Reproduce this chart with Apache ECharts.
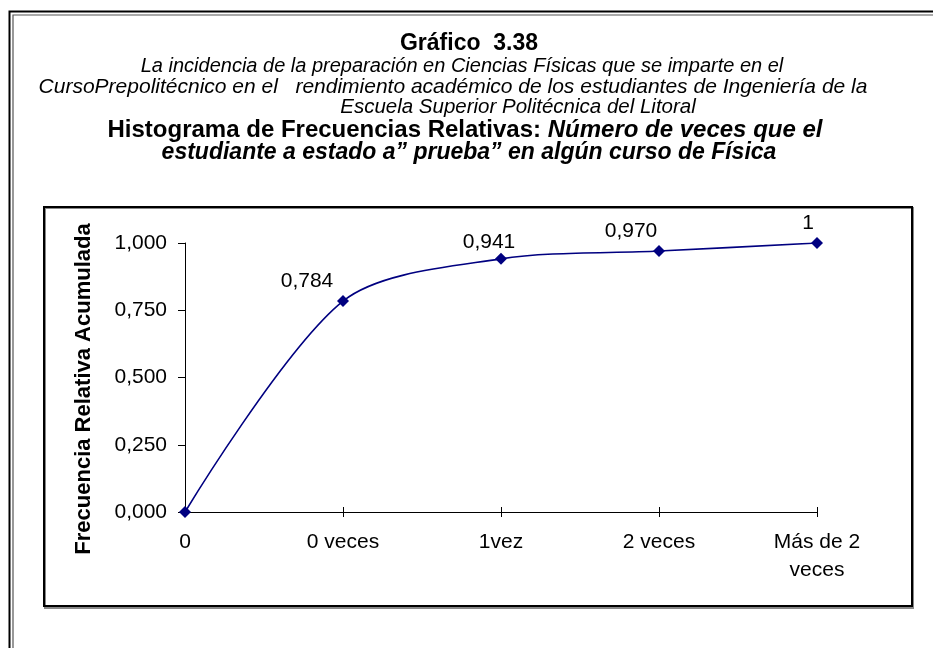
<!DOCTYPE html>
<html>
<head>
<meta charset="utf-8">
<script src="https://cdn.jsdelivr.net/npm/echarts@6/dist/echarts.min.js"></script>
<style>
  html, body { margin: 0; padding: 0; background: #ffffff; }
  #chart { width: 933px; height: 648px; }
</style>
</head>
<body>
<div id="chart"></div>
<script>
// Categories on the horizontal axis
const categories = ['0', '0 veces', '1vez', '2 veces', 'Más de 2\nveces'];
// Cumulative relative frequency per category
const cumulativeFreq = [0, 0.784, 0.941, 0.970, 1];
// Text printed above each point (the origin has none)
const valueLabels = ['', '0,784', '0,941', '0,970', '1'];
// Vertical axis tick labels
const yTickLabels = ['0,000', '0,250', '0,500', '0,750', '1,000'];

const FONT = '"Liberation Sans", Arial, sans-serif';
const NAVY = '#000080';

// Per-point nudges for the value labels
const labelNudge = [[0, 0], [-36, 2], [-12, 5], [-28, 2], [-9, 2]];

const chart = echarts.init(document.getElementById('chart'), null, { renderer: 'canvas' });

const seriesData = cumulativeFreq.map((v, i) => ({
  value: v,
  label: {
    show: valueLabels[i] !== '',
    formatter: valueLabels[i],
    offset: labelNudge[i]
  }
}));

const titleLines = [
  { text: 'Gráfico  3.38', x: 469, y: 44, font: 'bold 23px ' + FONT },
  { text: 'La incidencia de la preparación en Ciencias Físicas que se imparte en el', x: 462, y: 66, font: 'italic 20px ' + FONT },
  { text: 'CursoPrepolitécnico en el   rendimiento académico de los estudiantes de Ingeniería de la', x: 453, y: 87, font: 'italic 21px ' + FONT },
  { text: 'Escuela Superior Politécnica del Litoral', x: 518, y: 107, font: 'italic 20.5px ' + FONT }
];

const graphics = [];
// double frame around the page
graphics.push({ type: 'polyline', shape: { points: [[9.5, 648], [9.5, 11.5], [933, 11.5]] }, style: { stroke: '#000', lineWidth: 2, fill: null } });
graphics.push({ type: 'polyline', shape: { points: [[13, 648], [13, 15], [933, 15]] }, style: { stroke: '#555', lineWidth: 1.2, fill: null } });
// chart box with its shadow
graphics.push({ type: 'rect', shape: { x: 45, y: 208, width: 868, height: 400 }, style: { stroke: '#888', lineWidth: 2, fill: null } });
graphics.push({ type: 'rect', shape: { x: 44, y: 207, width: 868, height: 399 }, style: { stroke: '#000', lineWidth: 2, fill: null } });

titleLines.forEach((t) => {
  graphics.push({
    type: 'text', x: t.x, y: t.y,
    style: { text: t.text, font: t.font, fill: '#000', align: 'center', verticalAlign: 'middle' }
  });
});
graphics.push({
  type: 'text', x: 465, y: 130,
  style: {
    text: '{a|Histograma de Frecuencias Relativas: }{b|Número de veces que el}',
    align: 'center', verticalAlign: 'middle',
    rich: {
      a: { font: 'bold 24px ' + FONT, fill: '#000' },
      b: { font: 'italic bold 24px ' + FONT, fill: '#000' }
    }
  }
});
graphics.push({
  type: 'text', x: 469, y: 153,
  style: { text: 'estudiante a estado a” prueba” en algún curso de Física', font: 'italic bold 23px ' + FONT, fill: '#000', align: 'center', verticalAlign: 'middle' }
});
// vertical axis title
graphics.push({
  type: 'text', x: 84, y: 389, rotation: Math.PI / 2,
  style: { text: 'Frecuencia Relativa Acumulada', font: 'bold 22px ' + FONT, fill: '#000', align: 'center', verticalAlign: 'middle' }
});

chart.setOption({
  animation: false,
  backgroundColor: '#ffffff',
  grid: { left: 185, right: 116, top: 243, bottom: 136, containLabel: false },
  xAxis: [{
    type: 'category',
    data: categories,
    boundaryGap: false,
    axisLine: { lineStyle: { color: '#000', width: 1 } },
    axisTick: { show: true, alignWithLabel: true, length: 5, lineStyle: { color: '#000' } },
    axisLabel: { color: '#000', fontFamily: FONT, fontSize: 21, lineHeight: 28, margin: 16, interval: 0 },
    splitLine: { show: false }
  }, {
    type: 'category',
    data: categories,
    boundaryGap: false,
    position: 'bottom',
    axisLine: { show: false },
    axisTick: { show: true, inside: true, length: 5, lineStyle: { color: '#000' } },
    axisLabel: { show: false },
    splitLine: { show: false }
  }],
  yAxis: {
    type: 'value',
    min: 0,
    max: 1,
    interval: 0.25,
    axisLine: { show: true, lineStyle: { color: '#000', width: 1 } },
    axisTick: { show: true, length: 7, lineStyle: { color: '#000' } },
    axisLabel: {
      color: '#000', fontFamily: FONT, fontSize: 21, margin: 18,
      formatter: (v) => yTickLabels[Math.round(v / 0.25)]
    },
    splitLine: { show: false }
  },
  series: [{
    type: 'line',
    data: seriesData,
    smooth: 0.3,
    symbol: 'diamond',
    symbolSize: 12,
    lineStyle: { color: NAVY, width: 1.6 },
    itemStyle: { color: NAVY },
    label: {
      show: true,
      position: 'top',
      color: '#000',
      fontFamily: FONT,
      fontSize: 21
    }
  }],
  graphic: graphics
});
</script>
</body>
</html>
